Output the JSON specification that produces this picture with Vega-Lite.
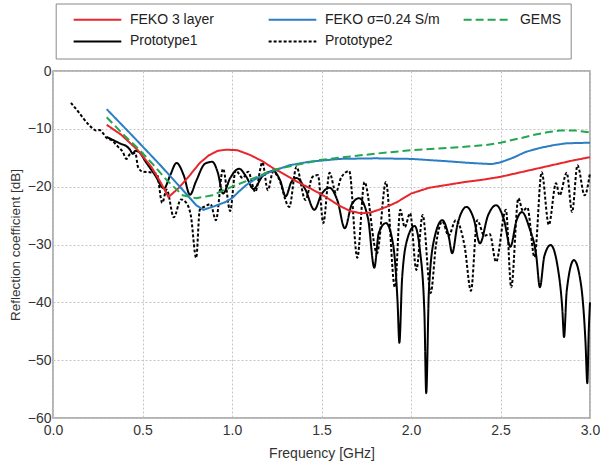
{
 "$schema": "https://vega.github.io/schema/vega-lite/v6.json",
 "width": 537, "height": 347,
 "autosize": {"type": "none"},
 "padding": {"left": 53, "top": 71, "right": 10, "bottom": 45},
 "config": {
  "font": "Liberation Sans",
  "view": {"stroke": "#9a9a9a", "strokeWidth": 1.5},
  "axis": {"grid": true, "gridColor": "#c4c4c4", "gridDash": [2, 2], "gridWidth": 1, "domain": false, "ticks": false, "labelFlush": false, "labelFontSize": 14, "labelColor": "#333", "titleFontSize": 14, "titleFontWeight": "normal", "titleColor": "#333"}
 },
 "datasets": {
  "d": [
   {"s":"Prototype1","f":0.30,"db":-11.4},{"s":"Prototype1","f":0.34,"db":-12.0},{"s":"Prototype1","f":0.38,"db":-12.6},{"s":"Prototype1","f":0.41,"db":-13.0},{"s":"Prototype1","f":0.43,"db":-13.6},{"s":"Prototype1","f":0.445,"db":-14.3},{"s":"Prototype1","f":0.46,"db":-13.8},{"s":"Prototype1","f":0.48,"db":-14.0},{"s":"Prototype1","f":0.52,"db":-15.8},{"s":"Prototype1","f":0.57,"db":-18.0},{"s":"Prototype1","f":0.62,"db":-20.3},{"s":"Prototype1","f":0.655,"db":-18.0},{"s":"Prototype1","f":0.69,"db":-15.9},{"s":"Prototype1","f":0.73,"db":-18.0},{"s":"Prototype1","f":0.765,"db":-21.4},{"s":"Prototype1","f":0.80,"db":-19.0},{"s":"Prototype1","f":0.85,"db":-16.0},{"s":"Prototype1","f":0.89,"db":-15.7},{"s":"Prototype1","f":0.92,"db":-17.5},{"s":"Prototype1","f":0.95,"db":-21.2},{"s":"Prototype1","f":0.99,"db":-18.5},{"s":"Prototype1","f":1.04,"db":-16.9},{"s":"Prototype1","f":1.08,"db":-18.3},{"s":"Prototype1","f":1.12,"db":-20.4},{"s":"Prototype1","f":1.17,"db":-18.2},{"s":"Prototype1","f":1.23,"db":-17.3},{"s":"Prototype1","f":1.27,"db":-19.0},{"s":"Prototype1","f":1.30,"db":-21.7},{"s":"Prototype1","f":1.33,"db":-19.3},{"s":"Prototype1","f":1.36,"db":-18.5},{"s":"Prototype1","f":1.41,"db":-20.5},{"s":"Prototype1","f":1.46,"db":-24.0},{"s":"Prototype1","f":1.50,"db":-21.3},{"s":"Prototype1","f":1.545,"db":-20.2},{"s":"Prototype1","f":1.59,"db":-22.5},{"s":"Prototype1","f":1.63,"db":-27.2},{"s":"Prototype1","f":1.67,"db":-23.0},{"s":"Prototype1","f":1.71,"db":-22.0},{"s":"Prototype1","f":1.76,"db":-25.5},{"s":"Prototype1","f":1.795,"db":-34.0},{"s":"Prototype1","f":1.82,"db":-28.0},{"s":"Prototype1","f":1.86,"db":-26.3},{"s":"Prototype1","f":1.90,"db":-30.0},{"s":"Prototype1","f":1.925,"db":-40.0},{"s":"Prototype1","f":1.935,"db":-47.0},{"s":"Prototype1","f":1.95,"db":-36.0},{"s":"Prototype1","f":1.98,"db":-29.0},{"s":"Prototype1","f":2.02,"db":-26.8},{"s":"Prototype1","f":2.05,"db":-31.0},{"s":"Prototype1","f":2.075,"db":-42.0},{"s":"Prototype1","f":2.085,"db":-55.7},{"s":"Prototype1","f":2.10,"db":-38.0},{"s":"Prototype1","f":2.13,"db":-29.0},{"s":"Prototype1","f":2.175,"db":-25.8},{"s":"Prototype1","f":2.21,"db":-28.5},{"s":"Prototype1","f":2.23,"db":-31.5},{"s":"Prototype1","f":2.26,"db":-26.5},{"s":"Prototype1","f":2.31,"db":-23.5},{"s":"Prototype1","f":2.35,"db":-25.5},{"s":"Prototype1","f":2.385,"db":-29.8},{"s":"Prototype1","f":2.43,"db":-25.0},{"s":"Prototype1","f":2.475,"db":-23.2},{"s":"Prototype1","f":2.52,"db":-25.8},{"s":"Prototype1","f":2.555,"db":-30.4},{"s":"Prototype1","f":2.59,"db":-25.8},{"s":"Prototype1","f":2.62,"db":-24.4},{"s":"Prototype1","f":2.66,"db":-27.0},{"s":"Prototype1","f":2.70,"db":-32.0},{"s":"Prototype1","f":2.72,"db":-37.4},{"s":"Prototype1","f":2.745,"db":-32.0},{"s":"Prototype1","f":2.78,"db":-30.1},{"s":"Prototype1","f":2.82,"db":-34.0},{"s":"Prototype1","f":2.845,"db":-41.0},{"s":"Prototype1","f":2.855,"db":-46.0},{"s":"Prototype1","f":2.87,"db":-38.0},{"s":"Prototype1","f":2.91,"db":-32.7},{"s":"Prototype1","f":2.95,"db":-37.0},{"s":"Prototype1","f":2.975,"db":-47.0},{"s":"Prototype1","f":2.985,"db":-54.0},{"s":"Prototype1","f":2.993,"db":-45.0},{"s":"Prototype1","f":3.0,"db":-40.0},

   {"s":"Prototype2","f":0.10,"db":-5.5},{"s":"Prototype2","f":0.14,"db":-7.0},{"s":"Prototype2","f":0.17,"db":-8.2},{"s":"Prototype2","f":0.20,"db":-9.3},{"s":"Prototype2","f":0.22,"db":-9.9},{"s":"Prototype2","f":0.24,"db":-10.3},{"s":"Prototype2","f":0.26,"db":-10.2},{"s":"Prototype2","f":0.28,"db":-10.8},{"s":"Prototype2","f":0.30,"db":-11.6},{"s":"Prototype2","f":0.33,"db":-12.0},{"s":"Prototype2","f":0.36,"db":-13.0},{"s":"Prototype2","f":0.39,"db":-14.0},{"s":"Prototype2","f":0.41,"db":-15.2},{"s":"Prototype2","f":0.43,"db":-14.4},{"s":"Prototype2","f":0.46,"db":-14.2},{"s":"Prototype2","f":0.475,"db":-16.6},{"s":"Prototype2","f":0.50,"db":-17.4},{"s":"Prototype2","f":0.54,"db":-17.5},{"s":"Prototype2","f":0.58,"db":-17.8},{"s":"Prototype2","f":0.61,"db":-22.8},{"s":"Prototype2","f":0.635,"db":-20.5},{"s":"Prototype2","f":0.675,"db":-25.3},{"s":"Prototype2","f":0.715,"db":-22.2},{"s":"Prototype2","f":0.745,"db":-22.8},{"s":"Prototype2","f":0.77,"db":-25.0},{"s":"Prototype2","f":0.80,"db":-32.3},{"s":"Prototype2","f":0.82,"db":-24.0},{"s":"Prototype2","f":0.85,"db":-23.4},{"s":"Prototype2","f":0.88,"db":-23.0},{"s":"Prototype2","f":0.91,"db":-25.8},{"s":"Prototype2","f":0.95,"db":-16.9},{"s":"Prototype2","f":0.99,"db":-24.2},{"s":"Prototype2","f":1.02,"db":-17.2},{"s":"Prototype2","f":1.06,"db":-18.5},{"s":"Prototype2","f":1.09,"db":-17.4},{"s":"Prototype2","f":1.13,"db":-20.9},{"s":"Prototype2","f":1.17,"db":-15.8},{"s":"Prototype2","f":1.20,"db":-20.6},{"s":"Prototype2","f":1.23,"db":-17.4},{"s":"Prototype2","f":1.26,"db":-18.5},{"s":"Prototype2","f":1.32,"db":-23.5},{"s":"Prototype2","f":1.36,"db":-16.6},{"s":"Prototype2","f":1.41,"db":-22.3},{"s":"Prototype2","f":1.45,"db":-18.3},{"s":"Prototype2","f":1.48,"db":-18.0},{"s":"Prototype2","f":1.51,"db":-26.3},{"s":"Prototype2","f":1.545,"db":-17.6},{"s":"Prototype2","f":1.58,"db":-21.0},{"s":"Prototype2","f":1.61,"db":-18.4},{"s":"Prototype2","f":1.655,"db":-17.3},{"s":"Prototype2","f":1.70,"db":-32.3},{"s":"Prototype2","f":1.74,"db":-19.2},{"s":"Prototype2","f":1.81,"db":-31.5},{"s":"Prototype2","f":1.86,"db":-19.2},{"s":"Prototype2","f":1.91,"db":-37.4},{"s":"Prototype2","f":1.94,"db":-24.0},{"s":"Prototype2","f":1.965,"db":-27.0},{"s":"Prototype2","f":1.995,"db":-24.6},{"s":"Prototype2","f":2.03,"db":-34.4},{"s":"Prototype2","f":2.065,"db":-24.9},{"s":"Prototype2","f":2.11,"db":-38.4},{"s":"Prototype2","f":2.14,"db":-30.0},{"s":"Prototype2","f":2.175,"db":-26.0},{"s":"Prototype2","f":2.21,"db":-28.5},{"s":"Prototype2","f":2.25,"db":-25.8},{"s":"Prototype2","f":2.30,"db":-30.4},{"s":"Prototype2","f":2.335,"db":-38.0},{"s":"Prototype2","f":2.37,"db":-25.8},{"s":"Prototype2","f":2.41,"db":-28.5},{"s":"Prototype2","f":2.44,"db":-28.2},{"s":"Prototype2","f":2.475,"db":-33.0},{"s":"Prototype2","f":2.53,"db":-24.0},{"s":"Prototype2","f":2.56,"db":-37.4},{"s":"Prototype2","f":2.60,"db":-22.0},{"s":"Prototype2","f":2.625,"db":-24.2},{"s":"Prototype2","f":2.65,"db":-23.6},{"s":"Prototype2","f":2.69,"db":-32.2},{"s":"Prototype2","f":2.73,"db":-17.5},{"s":"Prototype2","f":2.77,"db":-26.6},{"s":"Prototype2","f":2.81,"db":-19.4},{"s":"Prototype2","f":2.83,"db":-21.5},{"s":"Prototype2","f":2.87,"db":-17.6},{"s":"Prototype2","f":2.90,"db":-24.4},{"s":"Prototype2","f":2.93,"db":-16.3},{"s":"Prototype2","f":2.97,"db":-21.5},{"s":"Prototype2","f":3.0,"db":-17.6},

   {"s":"FEKO 3 layer","f":0.30,"db":-9.3},{"s":"FEKO 3 layer","f":0.38,"db":-11.0},{"s":"FEKO 3 layer","f":0.474,"db":-13.7},{"s":"FEKO 3 layer","f":0.55,"db":-16.6},{"s":"FEKO 3 layer","f":0.60,"db":-19.2},{"s":"FEKO 3 layer","f":0.645,"db":-21.8},{"s":"FEKO 3 layer","f":0.70,"db":-20.3},{"s":"FEKO 3 layer","f":0.765,"db":-18.0},{"s":"FEKO 3 layer","f":0.82,"db":-15.9},{"s":"FEKO 3 layer","f":0.87,"db":-14.6},{"s":"FEKO 3 layer","f":0.92,"db":-13.8},{"s":"FEKO 3 layer","f":0.97,"db":-13.6},{"s":"FEKO 3 layer","f":1.03,"db":-13.7},{"s":"FEKO 3 layer","f":1.10,"db":-14.5},{"s":"FEKO 3 layer","f":1.17,"db":-15.6},{"s":"FEKO 3 layer","f":1.23,"db":-16.8},{"s":"FEKO 3 layer","f":1.30,"db":-18.0},{"s":"FEKO 3 layer","f":1.38,"db":-19.4},{"s":"FEKO 3 layer","f":1.45,"db":-20.5},{"s":"FEKO 3 layer","f":1.52,"db":-21.7},{"s":"FEKO 3 layer","f":1.60,"db":-23.3},{"s":"FEKO 3 layer","f":1.66,"db":-24.2},{"s":"FEKO 3 layer","f":1.72,"db":-24.6},{"s":"FEKO 3 layer","f":1.77,"db":-24.5},{"s":"FEKO 3 layer","f":1.82,"db":-24.0},{"s":"FEKO 3 layer","f":1.87,"db":-23.4},{"s":"FEKO 3 layer","f":1.92,"db":-22.7},{"s":"FEKO 3 layer","f":2.00,"db":-21.2},{"s":"FEKO 3 layer","f":2.10,"db":-20.2},{"s":"FEKO 3 layer","f":2.20,"db":-19.7},{"s":"FEKO 3 layer","f":2.30,"db":-19.2},{"s":"FEKO 3 layer","f":2.40,"db":-18.8},{"s":"FEKO 3 layer","f":2.50,"db":-18.3},{"s":"FEKO 3 layer","f":2.60,"db":-17.6},{"s":"FEKO 3 layer","f":2.70,"db":-16.9},{"s":"FEKO 3 layer","f":2.80,"db":-16.2},{"s":"FEKO 3 layer","f":2.90,"db":-15.5},{"s":"FEKO 3 layer","f":3.00,"db":-14.9},

   {"s":"FEKO σ=0.24 S/m","f":0.30,"db":-6.6},{"s":"FEKO σ=0.24 S/m","f":0.45,"db":-11.4},{"s":"FEKO σ=0.24 S/m","f":0.60,"db":-16.3},{"s":"FEKO σ=0.24 S/m","f":0.72,"db":-20.4},{"s":"FEKO σ=0.24 S/m","f":0.80,"db":-23.2},{"s":"FEKO σ=0.24 S/m","f":0.84,"db":-24.0},{"s":"FEKO σ=0.24 S/m","f":0.90,"db":-23.4},{"s":"FEKO σ=0.24 S/m","f":0.96,"db":-22.7},{"s":"FEKO σ=0.24 S/m","f":1.00,"db":-22.0},{"s":"FEKO σ=0.24 S/m","f":1.04,"db":-20.8},{"s":"FEKO σ=0.24 S/m","f":1.08,"db":-19.7},{"s":"FEKO σ=0.24 S/m","f":1.14,"db":-18.5},{"s":"FEKO σ=0.24 S/m","f":1.21,"db":-17.5},{"s":"FEKO σ=0.24 S/m","f":1.32,"db":-16.3},{"s":"FEKO σ=0.24 S/m","f":1.43,"db":-15.7},{"s":"FEKO σ=0.24 S/m","f":1.60,"db":-15.2},{"s":"FEKO σ=0.24 S/m","f":1.80,"db":-15.1},{"s":"FEKO σ=0.24 S/m","f":2.00,"db":-15.2},{"s":"FEKO σ=0.24 S/m","f":2.20,"db":-15.6},{"s":"FEKO σ=0.24 S/m","f":2.33,"db":-15.9},{"s":"FEKO σ=0.24 S/m","f":2.45,"db":-16.1},{"s":"FEKO σ=0.24 S/m","f":2.50,"db":-15.8},{"s":"FEKO σ=0.24 S/m","f":2.57,"db":-15.0},{"s":"FEKO σ=0.24 S/m","f":2.64,"db":-14.0},{"s":"FEKO σ=0.24 S/m","f":2.72,"db":-13.3},{"s":"FEKO σ=0.24 S/m","f":2.80,"db":-12.8},{"s":"FEKO σ=0.24 S/m","f":2.87,"db":-12.5},{"s":"FEKO σ=0.24 S/m","f":3.00,"db":-12.4},

   {"s":"GEMS","f":0.30,"db":-8.0},{"s":"GEMS","f":0.40,"db":-11.2},{"s":"GEMS","f":0.485,"db":-13.7},{"s":"GEMS","f":0.56,"db":-16.2},{"s":"GEMS","f":0.636,"db":-18.9},{"s":"GEMS","f":0.725,"db":-21.5},{"s":"GEMS","f":0.80,"db":-22.0},{"s":"GEMS","f":0.89,"db":-21.5},{"s":"GEMS","f":1.00,"db":-20.0},{"s":"GEMS","f":1.14,"db":-18.3},{"s":"GEMS","f":1.23,"db":-17.1},{"s":"GEMS","f":1.35,"db":-16.3},{"s":"GEMS","f":1.49,"db":-15.4},{"s":"GEMS","f":1.60,"db":-15.0},{"s":"GEMS","f":1.80,"db":-14.3},{"s":"GEMS","f":2.00,"db":-13.7},{"s":"GEMS","f":2.20,"db":-13.3},{"s":"GEMS","f":2.30,"db":-13.1},{"s":"GEMS","f":2.42,"db":-12.8},{"s":"GEMS","f":2.50,"db":-12.4},{"s":"GEMS","f":2.60,"db":-11.7},{"s":"GEMS","f":2.68,"db":-11.1},{"s":"GEMS","f":2.76,"db":-10.6},{"s":"GEMS","f":2.83,"db":-10.3},{"s":"GEMS","f":2.92,"db":-10.3},{"s":"GEMS","f":3.00,"db":-10.6}
  ]
 },
 "data": {"name": "d"},
 "encoding": {
  "x": {"field": "f", "type": "quantitative", "scale": {"domain": [0, 3], "nice": false}, "axis": {"values": [0, 0.5, 1, 1.5, 2, 2.5, 3], "format": ".1f", "title": "Frequency [GHz]", "labelPadding": 5, "titlePadding": 9}},
  "y": {"field": "db", "type": "quantitative", "scale": {"domain": [-60, 0], "nice": false}, "axis": {"values": [-60, -50, -40, -30, -20, -10, 0], "title": "Reflection coefficient [dB]", "titleFontSize": 13.5, "labelPadding": 2, "titlePadding": 5}},
  "color": {"field": "s", "type": "nominal", "title": null,
   "scale": {"domain": ["FEKO 3 layer", "FEKO σ=0.24 S/m", "GEMS", "Prototype1", "Prototype2"], "range": ["#e8262b", "#2b7dc4", "#22a650", "#000000", "#000000"]},
   "legend": {"orient": "none", "legendX": 2.7, "legendY": -67.5, "direction": "horizontal", "columns": 3, "gridAlign": "all", "symbolType": "M0.3,0H8.6", "symbolSize": 132, "symbolStrokeWidth": 2, "labelFontSize": 14, "labelOffset": 51, "columnPadding": 15, "rowPadding": 7.7, "padding": 9.2, "strokeColor": "#888", "labelColor": "#222", "labelLimit": 300}},
  "strokeDash": {"field": "s", "type": "nominal", "title": null,
   "scale": {"domain": ["FEKO 3 layer", "FEKO σ=0.24 S/m", "GEMS", "Prototype1", "Prototype2"], "range": [[1, 0], [1, 0], [8, 4], [1, 0], [3, 2]]},
   "legend": {"orient": "none", "legendX": 2.7, "legendY": -67.5, "direction": "horizontal", "columns": 3, "gridAlign": "all", "symbolType": "M0.3,0H8.6", "symbolSize": 132, "symbolStrokeWidth": 2, "labelFontSize": 14, "labelOffset": 51, "columnPadding": 15, "rowPadding": 7.7, "padding": 9.2, "strokeColor": "#888", "labelColor": "#222", "labelLimit": 300}}
 },
 "layer": [
  {"transform": [{"filter": "datum.s == 'Prototype1' || datum.s == 'Prototype2'"}],
   "mark": {"type": "line", "interpolate": "monotone", "strokeWidth": 2}},
  {"transform": [{"filter": "datum.s != 'Prototype1' && datum.s != 'Prototype2'"}],
   "mark": {"type": "line", "interpolate": "linear", "strokeWidth": 2}}
 ]
}
